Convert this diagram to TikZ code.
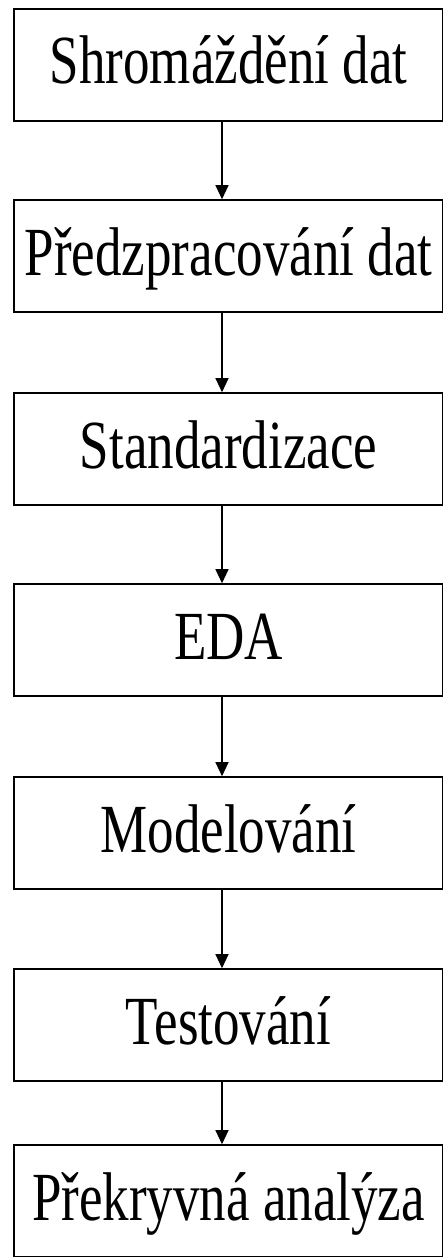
\documentclass[tikz,border=0pt]{standalone}
\usepackage{fontspec}
\setmainfont{Liberation Serif}
\usetikzlibrary{arrows.meta}
\newcommand\stagetext[1]{\scalebox{1}[1.3]{\fontsize{53}{60}\selectfont #1}}
\tikzset{
  stagebox/.style={draw, line width=1.6pt, rectangle, inner sep=0pt,
    text height=50pt, text depth=12pt,
    minimum width=429pt, minimum height=112pt, anchor=center},
  flowarrow/.style={line width=1.2pt, -{Triangle[length=14pt,width=13pt]}}
}
\begin{document}
\begin{tikzpicture}[x=1pt,y=1pt]
  \useasboundingbox (0,0) rectangle (442,-1257);
  \node[stagebox] (s1) at (228.5,-65)   {\stagetext{Shromáždění dat}};
  \node[stagebox] (s2) at (228.5,-256)  {\stagetext{Předzpracování dat}};
  \node[stagebox] (s3) at (228.5,-449)  {\stagetext{Standardizace}};
  \node[stagebox] (s4) at (228.5,-640)  {\stagetext{EDA}};
  \node[stagebox] (s5) at (228.5,-833)  {\stagetext{Modelování}};
  \node[stagebox] (s6) at (228.5,-1025) {\stagetext{Testování}};
  \node[stagebox] (s7) at (228.5,-1201) {\stagetext{Překryvná analýza}};
  \coordinate (ax) at (222,0);
  \foreach \a/\b in {s1/s2,s2/s3,s3/s4,s4/s5,s5/s6,s6/s7}
    \draw[flowarrow] (\a.south -| ax) -- (\b.north -| ax);
\end{tikzpicture}
\end{document}
